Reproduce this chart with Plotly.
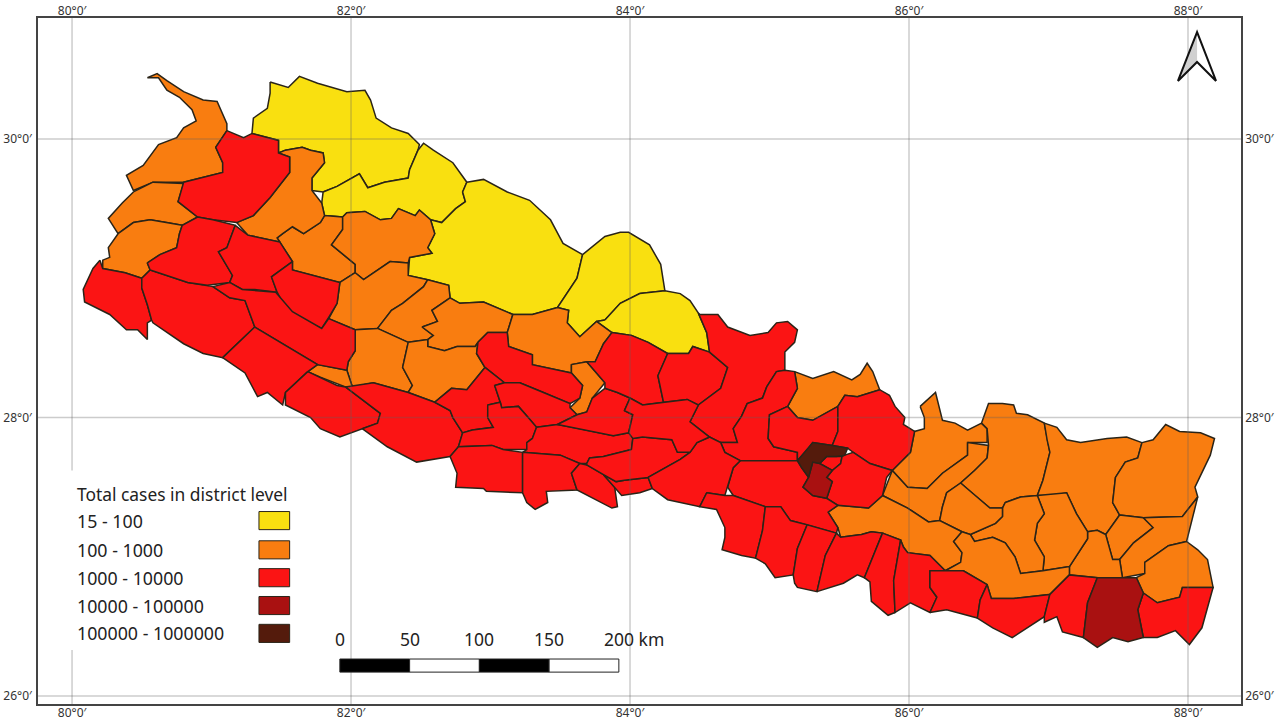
import plotly.graph_objects as go

# Longitude / latitude graticule
lon_ticks = [80, 82, 84, 86, 88]
lat_ticks = [26, 28, 30]
lon_labels = ["80°0′", "82°0′", "84°0′", "86°0′", "88°0′"]
lat_labels = ["26°0′", "28°0′", "30°0′"]

# Legend classes
class_labels = ["15 - 100", "100 - 1000", "1000 - 10000", "10000 - 100000", "100000 - 1000000"]
class_colors = ["#F9E010", "#F97D10", "#FB1414", "#A91111", "#541B0C"]

# Scale bar
scale_km = [0, 50, 100, 150, 200]

# District outlines (lon, lat)
darchula = [(80.54,30.44),(80.61,30.47),(80.68,30.42),(80.80,30.34),(80.94,30.28),(81.04,30.27),(81.11,30.11),(81.11,30.06),(81.03,29.94),(81.08,29.83),(81.08,29.76),(80.80,29.69),(80.58,29.69),(80.44,29.63),(80.39,29.74),(80.51,29.81),(80.62,29.96),(80.75,30.01),(80.80,30.08),(80.89,30.13),(80.86,30.21),(80.77,30.30),(80.68,30.35),(80.62,30.44)]
baitadi = [(80.44,29.62),(80.36,29.54),(80.26,29.43),(80.33,29.32),(80.44,29.40),(80.56,29.42),(80.68,29.40),(80.79,29.38),(80.90,29.44),(80.76,29.55),(80.80,29.68),(80.58,29.69)]
dadeldhura = [(80.33,29.32),(80.26,29.22),(80.27,29.15),(80.22,29.13),(80.22,29.07),(80.38,29.04),(80.50,29.00),(80.56,29.06),(80.54,29.11),(80.63,29.17),(80.75,29.22),(80.77,29.32),(80.79,29.38),(80.68,29.40),(80.56,29.42),(80.44,29.40)]
bajhang = [(81.11,30.06),(81.23,30.01),(81.29,30.04),(81.48,29.99),(81.48,29.90),(81.56,29.87),(81.56,29.76),(81.42,29.58),(81.30,29.45),(81.18,29.40),(81.01,29.42),(80.90,29.44),(80.76,29.55),(80.80,29.69),(81.08,29.76),(81.08,29.83),(81.03,29.94)]
kanchanpur = [(80.20,29.13),(80.15,29.07),(80.08,28.92),(80.09,28.83),(80.27,28.74),(80.39,28.63),(80.47,28.63),(80.54,28.56),(80.54,28.68),(80.57,28.70),(80.54,28.81),(80.50,28.93),(80.50,29.00),(80.38,29.04),(80.22,29.07)]
kailali = [(80.50,29.00),(80.56,29.06),(80.83,28.97),(80.97,28.95),(81.01,28.94),(81.13,28.86),(81.24,28.84),(81.31,28.65),(81.08,28.43),(80.94,28.46),(80.80,28.53),(80.58,28.68),(80.57,28.70),(80.54,28.81),(80.50,28.93)]
doti = [(80.54,29.11),(80.63,29.17),(80.75,29.22),(80.77,29.32),(80.79,29.38),(80.90,29.44),(81.01,29.42),(81.17,29.38),(81.11,29.22),(81.05,29.19),(81.15,29.02),(81.13,28.97),(80.97,28.95),(80.83,28.97),(80.56,29.06)]
achham = [(81.17,29.38),(81.26,29.31),(81.49,29.26),(81.58,29.12),(81.43,29.01),(81.47,28.90),(81.31,28.92),(81.22,28.92),(81.13,28.97),(81.15,29.02),(81.05,29.19),(81.11,29.22)]
dailekh = [(81.58,29.12),(81.58,29.06),(81.92,28.97),(81.90,28.82),(81.84,28.72),(81.79,28.64),(81.55,28.75),(81.47,28.90),(81.43,29.01)]
surkhet = [(81.01,28.94),(81.13,28.97),(81.22,28.92),(81.46,28.90),(81.58,28.76),(81.79,28.64),(81.84,28.71),(82.03,28.63),(82.03,28.48),(81.98,28.40),(81.97,28.34),(81.76,28.38),(81.31,28.65),(81.24,28.84),(81.13,28.86)]
bardiya = [(81.31,28.65),(81.76,28.38),(81.69,28.33),(81.53,28.18),(81.51,28.09),(81.40,28.18),(81.33,28.15),(81.24,28.32),(81.08,28.43)]
banke = [(81.69,28.33),(81.90,28.23),(81.96,28.22),(82.21,28.03),(82.19,27.96),(82.08,27.92),(81.92,27.86),(81.78,27.92),(81.71,28.00),(81.53,28.09),(81.53,28.18)]
dang = [(81.96,28.22),(82.16,28.25),(82.41,28.18),(82.60,28.11),(82.71,28.05),(82.73,28.00),(82.80,27.89),(82.77,27.79),(82.71,27.72),(82.47,27.68),(82.26,27.79),(82.08,27.92),(82.19,27.96),(82.21,28.03)]
salyan = [(82.03,28.63),(82.19,28.64),(82.41,28.54),(82.37,28.36),(82.44,28.23),(82.41,28.18),(82.16,28.25),(82.01,28.22),(81.97,28.34),(81.98,28.40),(82.03,28.48)]
bheri_strip = [(81.76,28.38),(81.97,28.34),(82.01,28.22),(81.96,28.22),(81.78,28.29),(81.69,28.33)]
pyuthan = [(82.41,28.54),(82.55,28.56),(82.55,28.51),(82.67,28.48),(82.76,28.51),(82.89,28.51),(82.91,28.54),(82.90,28.46),(82.96,28.36),(82.83,28.20),(82.72,28.21),(82.60,28.11),(82.41,28.18),(82.44,28.23),(82.37,28.36)]
jajarkot = [(81.81,29.45),(81.78,29.40),(81.66,29.32),(81.58,29.37),(81.51,29.32),(81.47,29.29),(81.49,29.26),(81.58,29.12),(81.58,29.06),(81.92,28.97),(82.03,29.04),(82.03,29.10),(81.86,29.24),(81.94,29.35),(81.94,29.44)]
kalikot = [(81.18,29.40),(81.26,29.31),(81.49,29.26),(81.47,29.29),(81.51,29.32),(81.58,29.37),(81.66,29.32),(81.78,29.40),(81.81,29.45),(81.79,29.54),(81.72,29.63),(81.72,29.72),(81.81,29.83),(81.80,29.90),(81.71,29.92),(81.65,29.94),(81.53,29.92),(81.48,29.90),(81.56,29.87),(81.56,29.76),(81.42,29.58),(81.30,29.45)]
humla = [(81.42,30.41),(81.55,30.37),(81.63,30.45),(81.76,30.40),(81.97,30.34),(82.10,30.35),(82.14,30.28),(82.18,30.15),(82.29,30.08),(82.41,30.04),(82.49,29.96),(82.48,29.92),(82.42,29.78),(82.41,29.72),(82.24,29.69),(82.12,29.65),(82.06,29.75),(81.90,29.66),(81.80,29.62),(81.72,29.63),(81.72,29.72),(81.81,29.83),(81.80,29.90),(81.71,29.92),(81.65,29.94),(81.53,29.92),(81.48,29.90),(81.48,29.99),(81.29,30.04),(81.30,30.15),(81.40,30.22),(81.42,30.33)]
mugu = [(81.80,29.62),(81.90,29.66),(82.06,29.75),(82.12,29.65),(82.24,29.69),(82.41,29.72),(82.42,29.78),(82.48,29.92),(82.52,29.97),(82.59,29.92),(82.73,29.83),(82.83,29.69),(82.80,29.62),(82.82,29.55),(82.75,29.50),(82.65,29.40),(82.57,29.42),(82.49,29.49),(82.46,29.45),(82.34,29.50),(82.29,29.43),(82.21,29.42),(82.10,29.48),(81.97,29.47),(81.94,29.44),(81.81,29.45),(81.79,29.54)]
dolpa = [(82.83,29.69),(82.95,29.71),(83.12,29.62),(83.28,29.56),(83.43,29.42),(83.52,29.25),(83.66,29.17),(83.62,29.00),(83.50,28.82),(83.48,28.79),(83.30,28.74),(83.16,28.74),(82.95,28.83),(82.78,28.82),(82.71,28.86),(82.70,28.95),(82.55,28.99),(82.41,29.02),(82.42,29.15),(82.58,29.18),(82.55,29.22),(82.60,29.32),(82.57,29.42),(82.65,29.40),(82.75,29.50),(82.82,29.55),(82.80,29.62)]
jumla = [(81.94,29.44),(81.97,29.47),(82.10,29.48),(82.21,29.42),(82.29,29.43),(82.34,29.50),(82.46,29.45),(82.49,29.49),(82.57,29.42),(82.60,29.32),(82.55,29.22),(82.58,29.18),(82.42,29.15),(82.41,29.11),(82.28,29.12),(82.09,28.99),(82.03,29.04),(82.03,29.10),(81.86,29.24),(81.94,29.35)]
rukum_west = [(82.03,29.04),(82.09,28.99),(82.28,29.12),(82.41,29.11),(82.41,29.02),(82.55,28.99),(82.52,28.94),(82.37,28.82),(82.29,28.77),(82.19,28.64),(82.03,28.63),(81.84,28.71),(81.90,28.82),(81.92,28.97)]
rukum_east = [(82.55,28.99),(82.70,28.95),(82.71,28.86),(82.58,28.77),(82.62,28.69),(82.51,28.65),(82.59,28.59),(82.55,28.56),(82.41,28.54),(82.19,28.64),(82.29,28.77),(82.37,28.82),(82.52,28.94)]
rolpa = [(82.71,28.86),(82.78,28.82),(82.95,28.83),(83.16,28.74),(83.12,28.61),(82.98,28.61),(82.91,28.54),(82.89,28.51),(82.76,28.51),(82.67,28.48),(82.55,28.51),(82.55,28.56),(82.59,28.59),(82.51,28.65),(82.62,28.69),(82.58,28.77)]
myagdi = [(83.16,28.74),(83.30,28.74),(83.48,28.79),(83.56,28.77),(83.55,28.68),(83.64,28.58),(83.76,28.69),(83.87,28.61),(83.81,28.53),(83.75,28.40),(83.69,28.40),(83.58,28.38),(83.58,28.32),(83.30,28.38),(83.30,28.45),(83.13,28.51),(83.12,28.61)]
mustang = [(83.66,29.17),(83.82,29.30),(83.93,29.33),(83.99,29.33),(84.14,29.24),(84.22,29.10),(84.25,28.91),(84.07,28.89),(83.93,28.82),(83.82,28.70),(83.76,28.69),(83.64,28.58),(83.55,28.68),(83.56,28.77),(83.48,28.79),(83.50,28.82),(83.62,29.00)]
manang = [(83.82,28.70),(83.93,28.82),(84.07,28.89),(84.25,28.91),(84.36,28.89),(84.43,28.84),(84.49,28.75),(84.55,28.61),(84.57,28.47),(84.45,28.51),(84.42,28.46),(84.27,28.46),(84.13,28.54),(84.01,28.59),(83.87,28.61),(83.76,28.69)]
baglung = [(82.91,28.54),(82.98,28.61),(83.12,28.61),(83.13,28.51),(83.30,28.45),(83.30,28.38),(83.58,28.32),(83.66,28.23),(83.64,28.14),(83.57,28.10),(83.38,28.18),(83.21,28.25),(83.10,28.25),(82.96,28.36),(82.90,28.46)]
parbat = [(83.58,28.38),(83.69,28.40),(83.82,28.25),(83.73,28.14),(83.69,28.04),(83.62,28.02),(83.57,28.07),(83.64,28.14),(83.66,28.23),(83.58,28.32)]
gulmi = [(82.96,28.36),(83.10,28.25),(83.03,28.23),(83.07,28.11),(82.98,28.09),(82.98,28.00),(83.02,27.93),(82.87,27.91),(82.80,27.89),(82.73,28.00),(82.71,28.05),(82.60,28.11),(82.72,28.21),(82.83,28.20)]
syangja = [(83.03,28.23),(83.10,28.25),(83.21,28.25),(83.38,28.18),(83.57,28.10),(83.57,28.07),(83.62,28.02),(83.48,27.95),(83.33,27.93),(83.27,28.00),(83.20,28.08),(83.08,28.07),(83.07,28.11)]
arghakhanchi = [(82.98,28.09),(83.07,28.11),(83.08,28.07),(83.20,28.08),(83.27,28.00),(83.33,27.93),(83.30,27.85),(83.26,27.82),(83.26,27.77),(83.09,27.77),(83.01,27.80),(82.77,27.79),(82.80,27.89),(82.87,27.91),(83.02,27.93),(82.98,28.00)]
palpa = [(83.33,27.93),(83.48,27.95),(83.64,27.92),(83.88,27.87),(83.99,27.89),(84.04,27.86),(84.02,27.85),(84.01,27.77),(83.81,27.72),(83.71,27.71),(83.69,27.67),(83.64,27.67),(83.50,27.73),(83.23,27.75),(83.26,27.77),(83.26,27.82),(83.30,27.85)]
tanahun_west = [(83.48,27.95),(83.62,28.02),(83.69,28.04),(83.73,28.14),(83.82,28.21),(83.91,28.18),(84.00,28.14),(83.96,28.05),(84.02,28.02),(83.99,27.89),(83.88,27.87),(83.64,27.92)]
kapilvastu = [(82.71,27.72),(82.77,27.79),(83.01,27.80),(83.09,27.77),(83.23,27.75),(83.23,27.46),(82.97,27.47),(82.95,27.49),(82.75,27.50),(82.76,27.60)]
rupandehi = [(83.23,27.75),(83.50,27.73),(83.64,27.67),(83.58,27.60),(83.62,27.48),(83.40,27.47),(83.41,27.39),(83.32,27.34),(83.26,27.39),(83.23,27.46)]
nawalparasi_west = [(83.64,27.67),(83.69,27.66),(83.81,27.59),(83.89,27.50),(83.91,27.36),(83.87,27.35),(83.62,27.48),(83.58,27.60)]
nawalparasi_east = [(83.81,27.59),(83.90,27.54),(83.96,27.55),(84.13,27.57),(84.16,27.49),(84.07,27.46),(83.94,27.44),(83.89,27.50)]
chitwan_west = [(84.01,27.77),(84.02,27.85),(84.09,27.86),(84.30,27.84),(84.34,27.75),(84.43,27.75),(84.36,27.70),(84.13,27.57),(83.96,27.55),(83.90,27.54),(83.81,27.59),(83.69,27.66),(83.69,27.67),(83.71,27.71),(83.81,27.72)]
kaski = [(83.87,28.61),(84.01,28.59),(84.13,28.54),(84.27,28.46),(84.20,28.30),(84.24,28.11),(84.09,28.09),(84.00,28.14),(83.91,28.18),(83.82,28.21),(83.82,28.25),(83.69,28.40),(83.75,28.40),(83.81,28.53)]
lamjung = [(84.27,28.46),(84.42,28.46),(84.45,28.51),(84.57,28.47),(84.70,28.36),(84.65,28.21),(84.49,28.09),(84.41,28.13),(84.24,28.11),(84.20,28.30)]
gorkha = [(84.50,28.74),(84.63,28.74),(84.70,28.65),(84.86,28.59),(84.99,28.61),(85.05,28.68),(85.13,28.69),(85.20,28.63),(85.18,28.54),(85.11,28.47),(85.11,28.34),(85.05,28.33),(84.98,28.22),(84.95,28.14),(84.84,28.10),(84.80,28.01),(84.74,27.92),(84.77,27.82),(84.65,27.82),(84.57,27.86),(84.43,27.97),(84.49,28.09),(84.65,28.21),(84.70,28.36),(84.57,28.47),(84.55,28.61),(84.49,28.75)]
dhading = [(85.11,28.34),(85.18,28.33),(85.20,28.21),(85.13,28.08),(85.00,28.02),(84.99,27.85),(85.03,27.79),(85.20,27.75),(85.20,27.69),(84.79,27.69),(84.68,27.75),(84.65,27.82),(84.77,27.82),(84.74,27.92),(84.80,28.01),(84.84,28.10),(84.95,28.14),(84.98,28.22),(85.05,28.33)]
nuwakot = [(85.13,28.08),(85.20,28.00),(85.31,27.98),(85.49,28.08),(85.49,27.90),(85.45,27.80),(85.31,27.82),(85.28,27.78),(85.20,27.69),(85.20,27.75),(85.03,27.79),(84.99,27.85),(85.00,28.02)]
rasuwa = [(85.18,28.33),(85.31,28.28),(85.46,28.33),(85.59,28.27),(85.65,28.31),(85.70,28.39),(85.74,28.33),(85.79,28.20),(85.63,28.15),(85.54,28.16),(85.49,28.08),(85.31,27.98),(85.20,28.00),(85.13,28.08),(85.20,28.21)]
sindhupalchok = [(85.49,28.08),(85.54,28.16),(85.63,28.15),(85.79,28.20),(85.86,28.16),(85.90,28.08),(85.97,28.00),(85.96,27.95),(86.04,27.90),(86.01,27.75),(85.88,27.62),(85.72,27.67),(85.60,27.75),(85.56,27.78),(85.45,27.80),(85.49,27.90)]
kathmandu = [(85.20,27.69),(85.28,27.78),(85.31,27.82),(85.45,27.80),(85.56,27.78),(85.54,27.73),(85.48,27.72),(85.41,27.72),(85.36,27.67),(85.31,27.68),(85.28,27.57),(85.23,27.64)]
bhaktapur = [(85.36,27.67),(85.41,27.72),(85.52,27.72),(85.51,27.67),(85.45,27.62)]
lalitpur = [(85.31,27.68),(85.36,27.67),(85.45,27.62),(85.41,27.57),(85.45,27.54),(85.41,27.42),(85.31,27.44),(85.24,27.50),(85.28,27.57)]
kavre = [(85.52,27.72),(85.54,27.73),(85.60,27.75),(85.72,27.67),(85.88,27.62),(85.84,27.57),(85.81,27.44),(85.71,27.35),(85.49,27.37),(85.41,27.42),(85.45,27.54),(85.41,27.57),(85.45,27.62),(85.51,27.67)]
makwanpur = [(84.79,27.69),(85.00,27.69),(85.20,27.69),(85.23,27.64),(85.28,27.57),(85.24,27.50),(85.31,27.44),(85.41,27.42),(85.49,27.37),(85.42,27.32),(85.49,27.21),(85.48,27.17),(85.27,27.23),(85.15,27.26),(85.08,27.36),(84.97,27.36),(84.74,27.44),(84.70,27.50),(84.74,27.64)]
chitwan = [(84.43,27.75),(84.48,27.82),(84.57,27.86),(84.65,27.82),(84.68,27.75),(84.79,27.69),(84.74,27.64),(84.70,27.50),(84.68,27.44),(84.55,27.46),(84.50,27.36),(84.27,27.41),(84.16,27.49),(84.13,27.57),(84.36,27.70)]
tanahun = [(83.96,28.05),(84.00,28.14),(84.09,28.09),(84.24,28.11),(84.41,28.13),(84.49,28.09),(84.43,27.97),(84.57,27.86),(84.48,27.82),(84.43,27.75),(84.34,27.75),(84.30,27.84),(84.09,27.86),(84.02,27.85),(83.99,27.89),(84.02,28.02)]
parsa = [(84.55,27.46),(84.68,27.44),(84.74,27.44),(84.97,27.36),(84.95,27.19),(84.90,26.99),(84.80,27.01),(84.66,27.05),(84.68,27.14),(84.68,27.21),(84.62,27.34),(84.50,27.36)]
rautahat = [(84.97,27.36),(85.08,27.36),(85.15,27.26),(85.27,27.23),(85.20,27.06),(85.17,26.87),(85.04,26.85),(84.97,26.95),(84.90,26.99),(84.95,27.19)]
sarlahi = [(85.27,27.23),(85.48,27.17),(85.40,27.01),(85.34,26.75),(85.20,26.78),(85.18,26.81),(85.17,26.87),(85.20,27.06)]
mahottari = [(85.48,27.17),(85.51,27.14),(85.66,27.16),(85.73,27.18),(85.81,27.17),(85.68,26.85),(85.63,26.87),(85.53,26.81),(85.34,26.75),(85.40,27.01)]
dhanusha = [(85.81,27.17),(85.94,27.12),(85.89,26.83),(85.90,26.60),(85.85,26.58),(85.73,26.68),(85.72,26.82),(85.68,26.85)]
siraha = [(85.94,27.12),(85.96,27.07),(85.99,27.03),(86.15,27.01),(86.26,26.90),(86.15,26.90),(86.15,26.78),(86.20,26.71),(86.15,26.60),(86.01,26.67),(85.90,26.60),(85.89,26.83)]
saptari = [(86.15,26.90),(86.26,26.90),(86.39,26.90),(86.56,26.80),(86.51,26.69),(86.49,26.56),(86.27,26.62),(86.15,26.60),(86.20,26.71),(86.15,26.78)]
sunsari = [(86.56,26.80),(86.59,26.70),(86.75,26.70),(87.01,26.73),(86.97,26.57),(86.85,26.49),(86.74,26.42),(86.60,26.49),(86.49,26.56),(86.51,26.69)]
dharan = [(87.01,26.73),(87.15,26.87),(87.35,26.85),(87.28,26.67),(87.25,26.42),(87.10,26.46),(87.06,26.57),(86.97,26.53),(86.97,26.57)]
morang = [(87.35,26.85),(87.53,26.85),(87.63,26.85),(87.68,26.74),(87.64,26.62),(87.68,26.42),(87.57,26.39),(87.46,26.42),(87.35,26.35),(87.25,26.42),(87.28,26.67)]
jhapa = [(87.68,26.74),(87.78,26.67),(87.94,26.71),(87.96,26.78),(88.18,26.78),(88.14,26.64),(88.10,26.49),(88.01,26.37),(87.91,26.47),(87.78,26.42),(87.68,26.42),(87.64,26.62)]
dolakha = [(86.08,28.08),(86.19,28.18),(86.24,27.98),(86.33,27.96),(86.42,27.91),(86.52,27.96),(86.56,27.92),(86.56,27.82),(86.42,27.82),(86.42,27.73),(86.24,27.60),(86.13,27.49),(85.99,27.50),(85.88,27.62),(86.01,27.75),(86.04,27.90),(86.11,27.92),(86.11,28.00)]
ramechhap = [(86.42,27.82),(86.57,27.80),(86.56,27.71),(86.47,27.62),(86.37,27.53),(86.27,27.46),(86.24,27.36),(86.22,27.26),(86.14,27.25),(85.99,27.35),(85.81,27.44),(85.88,27.62),(85.99,27.50),(86.13,27.49),(86.24,27.60),(86.42,27.73)]
solukhumbu = [(86.52,27.96),(86.57,28.10),(86.67,28.10),(86.75,28.09),(86.77,28.03),(86.85,28.02),(86.97,27.96),(86.99,27.84),(87.01,27.75),(86.96,27.55),(86.92,27.44),(86.80,27.43),(86.69,27.39),(86.67,27.35),(86.58,27.35),(86.45,27.46),(86.37,27.53),(86.47,27.62),(86.56,27.71),(86.57,27.80),(86.56,27.92)]
sankhuwasabha = [(86.97,27.96),(87.06,27.93),(87.13,27.84),(87.23,27.82),(87.42,27.85),(87.56,27.86),(87.67,27.82),(87.64,27.71),(87.55,27.68),(87.48,27.57),(87.46,27.39),(87.51,27.30),(87.41,27.16),(87.35,27.19),(87.28,27.18),(87.20,27.31),(87.13,27.46),(87.03,27.44),(86.92,27.44),(86.96,27.55),(87.01,27.75),(86.99,27.84)]
taplejung = [(87.67,27.82),(87.75,27.84),(87.84,27.95),(87.94,27.90),(88.09,27.89),(88.19,27.85),(88.16,27.73),(88.05,27.50),(88.07,27.43),(87.96,27.29),(87.68,27.28),(87.51,27.30),(87.46,27.39),(87.48,27.57),(87.55,27.68),(87.64,27.71)]
terhathum = [(87.51,27.30),(87.68,27.28),(87.75,27.21),(87.61,27.10),(87.51,26.98),(87.46,26.98),(87.41,27.16)]
panchthar = [(88.07,27.43),(88.00,27.14),(87.99,27.11),(87.86,27.08),(87.69,26.96),(87.69,26.88),(87.53,26.85),(87.51,26.98),(87.61,27.10),(87.75,27.21),(87.68,27.28),(87.96,27.29)]
ilam = [(87.99,27.11),(88.07,27.05),(88.14,26.98),(88.16,26.88),(88.18,26.78),(87.96,26.78),(87.94,26.71),(87.78,26.67),(87.68,26.74),(87.63,26.85),(87.69,26.88),(87.69,26.96),(87.86,27.08)]
dhankuta = [(87.28,27.18),(87.35,27.19),(87.41,27.16),(87.46,26.98),(87.51,26.98),(87.53,26.85),(87.35,26.85),(87.15,26.87),(87.15,26.93),(87.28,27.13)]
bhojpur = [(86.92,27.44),(87.13,27.46),(87.20,27.31),(87.28,27.18),(87.28,27.13),(87.15,26.93),(86.96,26.90),(86.97,27.00),(86.90,27.12),(86.92,27.24),(86.97,27.31)]
khotang = [(86.69,27.39),(86.80,27.43),(86.92,27.44),(86.97,27.31),(86.92,27.24),(86.90,27.12),(86.97,27.00),(86.96,26.90),(86.80,26.88),(86.76,27.00),(86.69,27.10),(86.60,27.14),(86.47,27.11),(86.44,27.16),(86.62,27.24),(86.67,27.29),(86.67,27.35)]
okhaldhunga = [(86.37,27.53),(86.45,27.46),(86.58,27.35),(86.67,27.35),(86.67,27.29),(86.62,27.24),(86.44,27.16),(86.38,27.18),(86.22,27.26),(86.24,27.36),(86.27,27.46)]
sindhuli = [(85.81,27.44),(85.99,27.35),(86.14,27.25),(86.22,27.26),(86.38,27.18),(86.32,27.11),(86.38,27.03),(86.37,26.96),(86.26,26.90),(86.15,27.01),(85.99,27.03),(85.96,27.07),(85.94,27.12),(85.81,27.17),(85.73,27.18),(85.66,27.16),(85.51,27.14),(85.49,27.21),(85.42,27.32),(85.49,27.37),(85.71,27.35)]
udayapur = [(86.38,27.18),(86.44,27.16),(86.47,27.11),(86.60,27.14),(86.69,27.10),(86.76,27.00),(86.80,26.88),(86.96,26.90),(87.15,26.93),(87.15,26.87),(87.01,26.73),(86.75,26.70),(86.59,26.70),(86.56,26.80),(86.39,26.90),(86.26,26.90),(86.37,26.96),(86.38,27.03),(86.32,27.11)]

# Districts by case class (index into class_labels)
class_districts = [
    [humla, mugu, dolpa, mustang, manang],
    [darchula, baitadi, dadeldhura, jajarkot, kalikot, jumla, rukum_west, rukum_east, rolpa, myagdi, salyan,
     bheri_strip, pyuthan, parbat, rasuwa, dolakha, ramechhap, solukhumbu, sankhuwasabha, taplejung, terhathum,
     panchthar, ilam, dhankuta, bhojpur, khotang, okhaldhunga, sindhuli, udayapur],
    [bajhang, kanchanpur, kailali, doti, achham, dailekh, surkhet, bardiya, banke, dang, baglung, gulmi, syangja,
     arghakhanchi, palpa, tanahun_west, kapilvastu, rupandehi, nawalparasi_west, nawalparasi_east, chitwan_west,
     kaski, lamjung, gorkha, dhading, nuwakot, sindhupalchok, bhaktapur, kavre, makwanpur, chitwan, tanahun, parsa,
     rautahat, sarlahi, mahottari, dhanusha, siraha, saptari, sunsari, dharan, jhapa],
    [lalitpur, morang],
    [kathmandu],
]

LON_MIN, LON_MAX = 79.756, 88.38
LAT_MIN, LAT_MAX = 25.943, 30.869
INK = "#2A2418"
GRID = "rgba(95,95,95,0.32)"
FONT = "Noto Sans"

fig = go.Figure()

for cls, districts in enumerate(class_districts):
    for d in districts:
        fig.add_trace(go.Scatter(
            x=[p[0] for p in d] + [d[0][0]], y=[p[1] for p in d] + [d[0][1]],
            mode="lines", fill="toself", fillcolor=class_colors[cls],
            line=dict(color=INK, width=1.5), name=class_labels[cls], showlegend=False, hoverinfo="name"))

for v in lon_ticks:
    fig.add_trace(go.Scatter(x=[v, v], y=[LAT_MIN, LAT_MAX], mode="lines",
                             line=dict(color=GRID, width=1.5), showlegend=False, hoverinfo="skip"))
for v in lat_ticks:
    fig.add_trace(go.Scatter(x=[LON_MIN, LON_MAX], y=[v, v], mode="lines",
                             line=dict(color=GRID, width=1.5), showlegend=False, hoverinfo="skip"))

# invisible trace that activates the mirrored top / right axes
fig.add_trace(go.Scatter(x=[84], y=[28], xaxis="x2", yaxis="y2", mode="markers",
                         marker=dict(opacity=0), showlegend=False, hoverinfo="skip"))

shapes = []
# white legend panel hiding the graticule
shapes.append(dict(type="rect", xref="x", yref="y", x0=79.78, x1=81.96, y0=26.33, y1=27.62,
                   fillcolor="white", line=dict(width=0), layer="above"))
annotations = [dict(text="Total cases in district level", x=80.04, y=27.45, xref="x", yref="y",
                    xanchor="left", yanchor="middle", showarrow=False, xshift=-3, font=dict(family=FONT, size=17.4, color="#222"))]
legend_lat = [27.26, 27.05, 26.85, 26.65, 26.45]
for lab, col, la in zip(class_labels, class_colors, legend_lat):
    annotations.append(dict(text=lab, x=80.04, y=la, xref="x", yref="y", xanchor="left", yanchor="middle",
                            showarrow=False, xshift=-3, font=dict(family=FONT, size=17.8, color="#222")))
    shapes.append(dict(type="rect", xref="x", yref="y", x0=81.34, x1=81.56, y0=la - 0.065, y1=la + 0.065,
                       fillcolor=col, line=dict(color=INK, width=1), layer="above"))

# scale bar: 1 km is drawn as 0.01 degree of longitude on this sheet
SCALE_X0 = 81.92
KM_DEG = 0.01
for i in range(len(scale_km) - 1):
    shapes.append(dict(type="rect", xref="x", yref="y",
                       x0=SCALE_X0 + scale_km[i] * KM_DEG, x1=SCALE_X0 + scale_km[i + 1] * KM_DEG,
                       y0=26.172, y1=26.266, fillcolor="black" if i % 2 == 0 else "white",
                       line=dict(color="#222", width=1), layer="above"))
for km in scale_km[:-1]:
    annotations.append(dict(text=str(km), x=SCALE_X0 + km * KM_DEG, y=26.41, xref="x", yref="y",
                            xanchor="center", yanchor="middle", showarrow=False,
                            font=dict(family=FONT, size=17.5, color="#222")))
annotations.append(dict(text="200 km", x=SCALE_X0 + 200 * KM_DEG - 0.12, y=26.41, xref="x", yref="y",
                        xanchor="left", yanchor="middle", showarrow=False,
                        font=dict(family=FONT, size=17.5, color="#222")))

# north arrow
shapes.append(dict(type="path", xref="x", yref="y", layer="above",
                   path="M 88.065 30.768 L 87.928 30.417 L 88.065 30.553 Z",
                   fillcolor="#D0D0D0", line=dict(width=0)))
shapes.append(dict(type="path", xref="x", yref="y", layer="above",
                   path="M 88.065 30.768 L 87.928 30.417 L 88.065 30.553 L 88.201 30.417 Z",
                   fillcolor="rgba(0,0,0,0)", line=dict(color="#111", width=2)))

tickfont = dict(family=FONT, size=12, color="#333")
common_x = dict(range=[LON_MIN, LON_MAX], tickmode="array", tickvals=lon_ticks, ticktext=lon_labels,
                showgrid=False, zeroline=False, ticks="", tickfont=tickfont, automargin=False,
                showline=True, linecolor="#444", linewidth=1.5, tickangle=0)
common_y = dict(range=[LAT_MIN, LAT_MAX], tickmode="array", tickvals=lat_ticks, ticktext=lat_labels,
                showgrid=False, zeroline=False, ticks="", tickfont=tickfont, automargin=False,
                showline=True, linecolor="#444", linewidth=1.5, tickangle=0)

fig.update_layout(
    width=1280, height=724, margin=dict(l=38, r=39, t=18, b=20, pad=0),
    paper_bgcolor="white", plot_bgcolor="white", showlegend=False,
    xaxis=dict(common_x, side="bottom", ticklabelstandoff=-3),
    yaxis=dict(common_y, side="left", ticklabelstandoff=2),
    xaxis2=dict(common_x, side="top", overlaying="x", ticklabelstandoff=-4),
    yaxis2=dict(common_y, side="right", overlaying="y"),
    shapes=shapes, annotations=annotations,
)

fig.write_html("out.html", config={"displayModeBar": False}, post_script="document.body.style.margin='0';")
